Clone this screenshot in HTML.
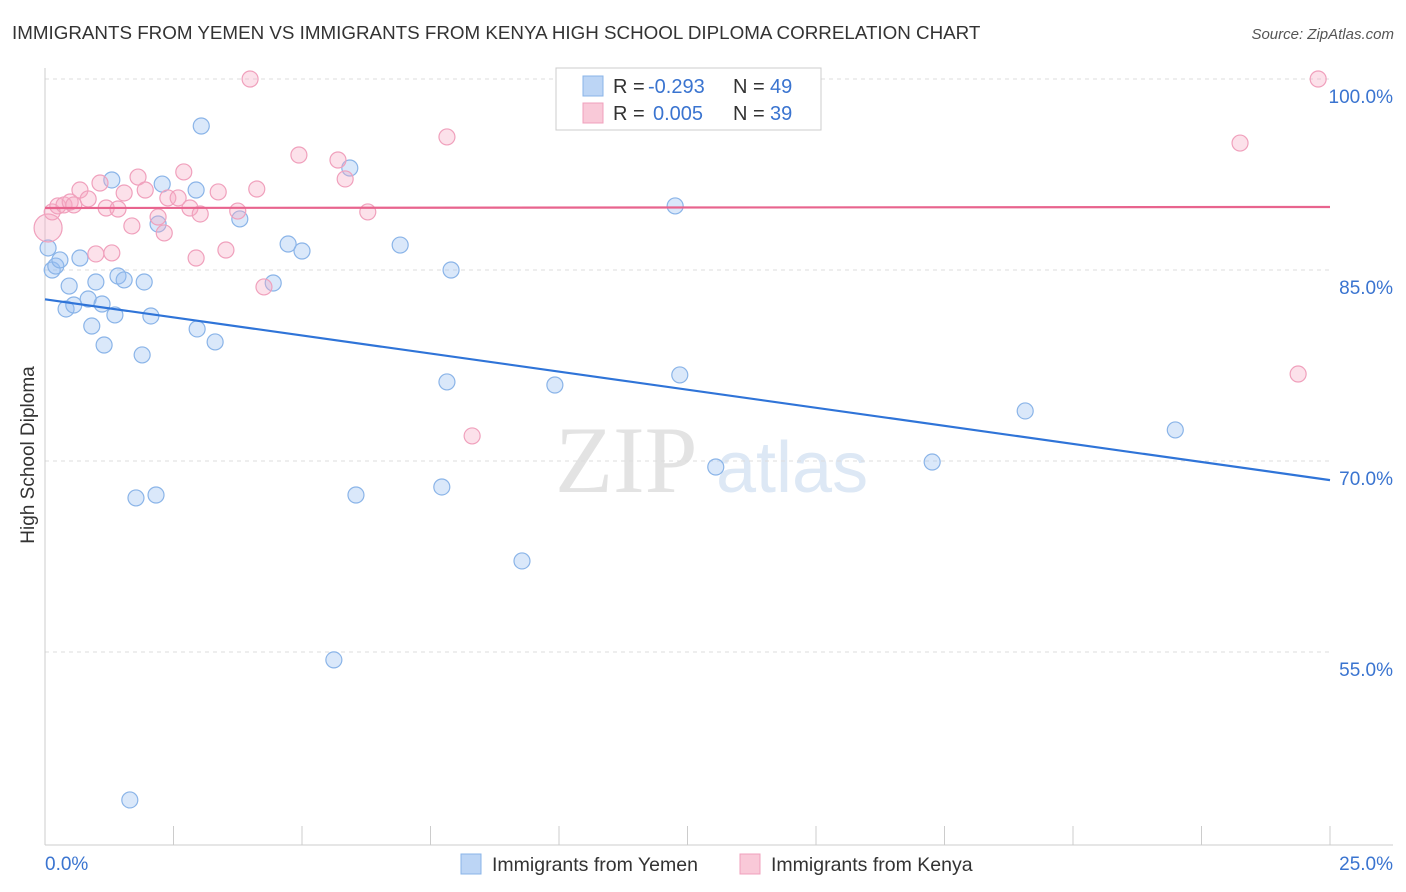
<!DOCTYPE html>
<html><head><meta charset="utf-8"><style>
body{margin:0;background:#fff;font-family:"Liberation Sans",sans-serif;}
#w{position:relative;width:1406px;height:892px;overflow:hidden}
</style></head><body>
<div id="w">
<svg id="s" width="1406" height="892">
<text x="12" y="39" font-size="18.8" fill="#333">IMMIGRANTS FROM YEMEN VS IMMIGRANTS FROM KENYA HIGH SCHOOL DIPLOMA CORRELATION CHART</text>
<text x="1394" y="39" font-size="15" fill="#555" font-style="italic" text-anchor="end">Source: ZipAtlas.com</text>
<text x="34" y="455" font-size="19" fill="#333" text-anchor="middle" transform="rotate(-90 34 455)">High School Diploma</text>
<text x="555" y="492" font-size="95" fill="#e3e3e3" font-family="Liberation Serif">ZIP</text>
<text x="716" y="492" font-size="72" fill="#dde8f5">atlas</text>
<g id="grid"></g><g id="axes"></g><g id="pts"></g>
<rect x="556" y="68" width="265" height="62" fill="#fff" stroke="#ccc"/>
<rect x="583" y="76" width="20" height="20" fill="#bcd5f5" stroke="#8ab4e8"/>
<rect x="583" y="103" width="20" height="20" fill="#f9c9d8" stroke="#f0a0bc"/>
<g font-size="20">
<text x="613" y="93" fill="#333">R =</text><text x="648" y="93" fill="#3a74d0">-0.293</text>
<text x="733" y="93" fill="#333">N =</text><text x="770" y="93" fill="#3a74d0">49</text>
<text x="613" y="120" fill="#333">R =</text><text x="653" y="120" fill="#3a74d0">0.005</text>
<text x="733" y="120" fill="#333">N =</text><text x="770" y="120" fill="#3a74d0">39</text>
</g>
<rect x="461" y="854" width="20" height="20" fill="#bcd5f5" stroke="#8ab4e8"/>
<text x="492" y="871" font-size="19.5" fill="#333">Immigrants from Yemen</text>
<rect x="740" y="854" width="20" height="20" fill="#f9c9d8" stroke="#f0a0bc"/>
<text x="771" y="871" font-size="19.5" fill="#333">Immigrants from Kenya</text>
</svg></div>
<script>
const yTicks=[100,85,70,55];
const yTickLabels=["100.0%","85.0%","70.0%","55.0%"];
const xTickLabels=["0.0%","25.0%"];
const yemenX=[0.06,0.14,0.21,0.29,0.47,0.41,0.56,0.68,0.84,0.91,0.99,1.11,1.15,1.30,1.36,1.42,1.54,1.65,1.77,1.89,1.93,2.06,2.16,2.20,2.28,2.94,2.96,3.04,3.31,3.79,4.44,4.73,5.00,5.62,5.93,6.05,6.91,7.72,7.82,7.90,9.28,9.92,12.26,12.35,13.05,17.26,19.07,21.99];
const yemenY=[86.73,85.0,85.31,85.79,83.74,81.94,82.25,85.94,82.72,80.60,84.06,82.33,79.11,92.07,81.47,84.53,84.22,43.38,67.10,78.33,84.06,81.39,67.33,88.61,91.75,91.28,80.37,96.31,79.35,89.01,83.98,87.04,86.49,54.38,93.01,67.33,86.96,67.96,76.21,85.0,62.15,75.97,90.03,76.76,69.53,69.92,73.93,72.44];
const kenyaX=[0.06,0.14,0.25,0.37,0.49,0.56,0.68,0.84,0.99,1.07,1.19,1.30,1.42,1.54,1.69,1.81,1.95,2.20,2.32,2.39,2.59,2.70,2.82,2.94,3.02,3.37,3.52,3.75,3.99,4.12,4.26,4.94,5.70,5.84,6.28,7.82,8.31,23.25,24.38,24.77];
const kenyaY=[88.30,89.56,90.03,90.11,90.34,90.11,91.28,90.58,86.26,91.83,89.87,86.34,89.79,91.05,88.46,92.30,91.28,89.16,87.91,90.66,90.66,92.70,89.87,85.94,89.40,91.13,86.57,89.63,100,91.36,83.67,94.03,93.64,92.15,89.56,95.45,71.97,94.97,76.83,100];
const yemenTrend=[82.7,68.5];
const kenyaTrend=[89.87,89.95];
const NS="http://www.w3.org/2000/svg";
const X=v=>45+v/25*1285, Y=v=>79+(100-v)*191/15;
function mk(t,a,p){const e=document.createElementNS(NS,t);for(const k in a)e.setAttribute(k,a[k]);document.getElementById(p).appendChild(e);return e;}
yTicks.forEach((t,i)=>{
 const l=mk('line',{x1:45,x2:1330,y1:Y(t),y2:Y(t),stroke:'#ddd','stroke-dasharray':'4,4'},'grid');
 
 
 const tx=mk('text',{x:1393,y:Y(t)+24,'font-size':19,fill:'#3a74d0','text-anchor':'end'},'axes');
 tx.textContent=yTickLabels[i];
 
 
});
let ax=mk('line',{x1:45,x2:45,y1:68,y2:845,stroke:'#ccc'},'axes');


ax=mk('line',{x1:45,x2:1393,y1:845,y2:845,stroke:'#ccc'},'axes');


for(let i=0;i<=10;i++){const t=mk('line',{x1:X(i*2.5),x2:X(i*2.5),y1:826,y2:845,stroke:'#ccc'},'axes');
 
 }
[[0,'start',45],[25,'end',1393]].forEach((d,i)=>{const t=mk('text',{x:d[2],y:870,'font-size':19,fill:'#3a74d0','text-anchor':d[1]},'axes');t.textContent=xTickLabels[i];
 
 });
function pts(xs,ys,fill,stroke,name){xs.forEach((x,i)=>{const c=mk('circle',{cx:X(x),cy:Y(ys[i]),r:8,fill:fill,stroke:stroke,'stroke-width':1.2},'pts');
 
 });}
pts(yemenX,yemenY,'rgba(150,190,240,0.35)','#8ab4e8','yemen-point');
pts(kenyaX,kenyaY,'rgba(245,170,195,0.35)','#f0a0bc','kenya-point');
document.querySelectorAll('#pts circle')[48].setAttribute('r',14);
let tl=mk('line',{x1:X(0),x2:X(25),y1:Y(yemenTrend[0]),y2:Y(yemenTrend[1]),stroke:'#2f74d8','stroke-width':2.2},'pts');


tl=mk('line',{x1:X(0),x2:X(25),y1:Y(kenyaTrend[0]),y2:Y(kenyaTrend[1]),stroke:'#e8648e','stroke-width':2.2},'pts');


</script>
</body></html>
